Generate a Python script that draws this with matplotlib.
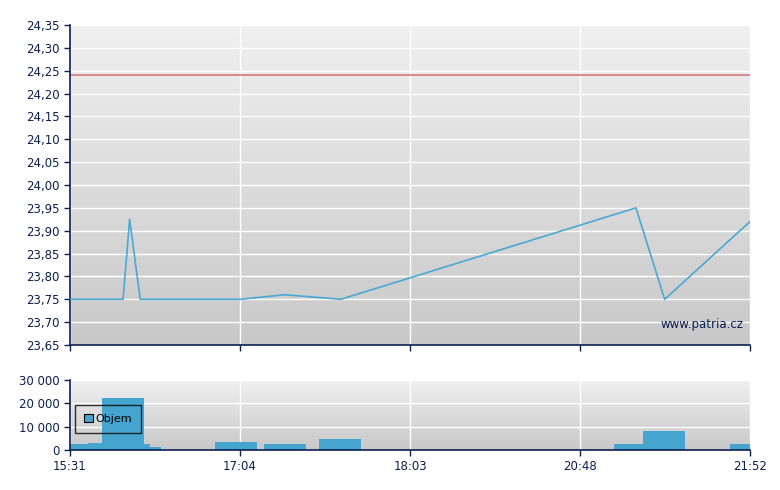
import numpy as np
import matplotlib
matplotlib.use('Agg')
import matplotlib.pyplot as plt
from matplotlib.ticker import FuncFormatter, MultipleLocator

# x axis is in session positions: one unit between neighbouring time labels
tick_labels = ['15:31', '17:04', '18:03', '20:48', '21:52']

price_x = [0, 0.312, 0.351, 0.413, 1.004, 1.261, 1.593, 3.329, 3.498, 4.0]
price_y = [23.75, 23.75, 23.925, 23.75, 23.75, 23.76, 23.75, 23.95, 23.75, 23.92]
prev_close = 24.24

vol_left = [0, 0.106, 0.188, 0.435, 0.471, 0.853, 1.141, 1.465, 3.200, 3.371, 3.882]
vol_width = [0.106, 0.082, 0.247, 0.035, 0.065, 0.247, 0.247, 0.247, 0.171, 0.247, 0.124]
vol_value = [2700, 3100, 22400, 2700, 1400, 3600, 2700, 4900, 2700, 8300, 2700]

NAVY = '#0b1f4f'
BLUE = '#45a5cf'


def gradient_bg(ax):
    grad = np.linspace(0, 1, 256).reshape(-1, 1)
    ax.imshow(grad, extent=[0, 1, 0, 1], transform=ax.transAxes, aspect='auto',
              cmap=matplotlib.colors.LinearSegmentedColormap.from_list('bg', ['#f0f0f0', '#c8c8c8']),
              zorder=0, interpolation='bicubic')


def style_axes(ax):
    for s in ['top', 'right']:
        ax.spines[s].set_visible(False)
    for s in ['left', 'bottom']:
        ax.spines[s].set_color(NAVY)
        ax.spines[s].set_linewidth(1.2)
    ax.tick_params(colors=NAVY, labelcolor=NAVY, labelsize=8.5, length=4, width=1)
    ax.grid(True, color='white', linewidth=1.0, zorder=1)
    ax.set_axisbelow(True)
    ax.set_xlim(0, 4)
    ax.set_xticks(range(len(tick_labels)))
    gradient_bg(ax)


fig = plt.figure(figsize=(7.8, 4.9), dpi=100)
ax1 = fig.add_axes([70 / 780, 145 / 490, 680 / 780, 320 / 490])
ax2 = fig.add_axes([70 / 780, 40 / 490, 680 / 780, 70 / 490])

# price panel
style_axes(ax1)
ax1.set_ylim(23.65, 24.35)
ax1.yaxis.set_major_locator(MultipleLocator(0.05))
ax1.yaxis.set_major_formatter(FuncFormatter(lambda v, p: f'{v:.2f}'.replace('.', ',')))
ax1.set_xticklabels([])
ax1.axhline(prev_close, color='#d9777a', linewidth=1.2, zorder=2)
ax1.plot(price_x, price_y, color='#4aa8d2', linewidth=1.2, zorder=3)
ax1.text(0.99, 0.065, 'www.patria.cz', transform=ax1.transAxes, ha='right', va='center',
         fontsize=8.5, color=NAVY, zorder=4)

# volume panel
style_axes(ax2)
ax2.set_ylim(0, 30000)
ax2.set_yticks([0, 10000, 20000, 30000])
ax2.yaxis.set_major_formatter(FuncFormatter(lambda v, p: f'{int(v):,}'.replace(',', ' ')))
ax2.set_xticklabels(tick_labels)
ax2.bar(vol_left, vol_value, width=vol_width, align='edge', color=BLUE,
        label='Objem', zorder=2, linewidth=0)
leg = ax2.legend(loc='lower left', bbox_to_anchor=(0.007, 0.243), borderaxespad=0,
                 fancybox=False, fontsize=8, handlelength=0.8,
                 handleheight=0.8, handletextpad=0.3, borderpad=0.8)
frame = leg.get_frame()
frame.set_facecolor('none')
frame.set_edgecolor('black')
frame.set_linewidth(1)
for h in leg.legend_handles:
    h.set_edgecolor('black')
    h.set_linewidth(0.8)

fig.savefig('out.png', dpi=100)
